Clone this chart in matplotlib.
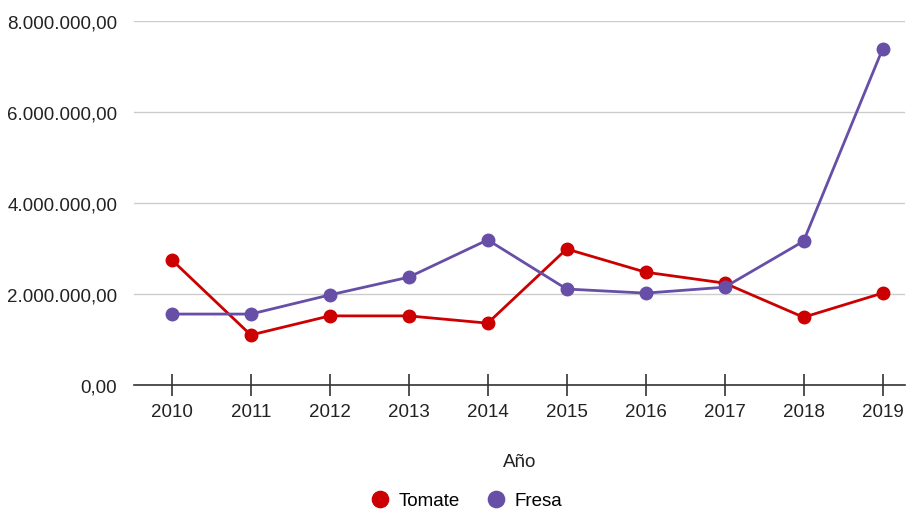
import matplotlib.pyplot as plt
from matplotlib.ticker import FuncFormatter

years = [2010, 2011, 2012, 2013, 2014, 2015, 2016, 2017, 2018, 2019]
tomate = [2750000, 1100000, 1520000, 1520000, 1360000, 2990000, 2480000, 2240000, 1490000, 2020000]
fresa = [1560000, 1560000, 1980000, 2370000, 3190000, 2110000, 2020000, 2150000, 3160000, 7380000]

plt.rcParams['font.family'] = ['Liberation Sans', 'DejaVu Sans']


def es_format(v, pos):
    s = f"{v:,.2f}"
    return s.replace(",", "X").replace(".", ",").replace("X", ".")


fig = plt.figure(figsize=(9.11, 5.10), dpi=100)
ax = fig.add_axes([0.147, 0.243, 0.846, 0.714])

ax.plot(years, tomate, color='#cc0000', lw=2, marker='o', ms=9, label='Tomate', zorder=3)
ax.plot(years, fresa, color='#674ea7', lw=2, marker='o', ms=9, label='Fresa', zorder=3)

ax.set_xlim(2009.52, 2019.28)
ax.set_ylim(0, 8000000)
ax.set_yticks([0, 2000000, 4000000, 6000000, 8000000])
ax.yaxis.set_major_formatter(FuncFormatter(es_format))
ax.set_xticks(years)
ax.set_xticklabels([str(y) for y in years])

ax.grid(axis='y', color='#cccccc', lw=1)
ax.set_axisbelow(True)
for s in ['top', 'right', 'left']:
    ax.spines[s].set_visible(False)
ax.spines['bottom'].set_color('#333333')
ax.spines['bottom'].set_linewidth(1.2)

ax.tick_params(axis='y', length=0, pad=12, labelsize=13.5, labelcolor='#222222')
ax.tick_params(axis='x', direction='inout', length=16, width=1.2, color='#333333',
               pad=5, labelsize=13.5, labelcolor='#222222')

ax.set_xlabel('Año', fontsize=13.5, color='#222222', labelpad=24)

leg = fig.legend(loc='center', bbox_to_anchor=(0.513, 0.016), ncol=2, frameon=False,
                 fontsize=13.5, handlelength=0.8, columnspacing=1.5, handletextpad=0.6,
                 markerscale=1.3)
for line in leg.get_lines():
    line.set_linestyle('none')

fig.savefig('out.png', dpi=100)
